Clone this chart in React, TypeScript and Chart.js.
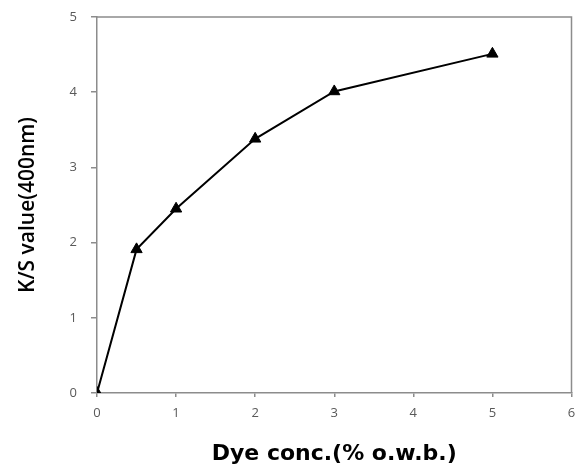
import React, { useEffect, useRef } from "react";
import { Chart, registerables } from "chart.js";

Chart.register(...registerables);

const xValues = [0, 0.5, 1, 2, 3, 5];
const ksValues = [0, 1.91, 2.45, 3.38, 4.01, 4.51];
const xTitle = "Dye conc.(% o.w.b.)";
const yTitle = "K/S value(400nm)";

const framePlugin = {
  id: "frame",
  afterDraw(chart: any) {
    const { ctx, chartArea } = chart;
    ctx.save();
    ctx.strokeStyle = "#8c8c8c";
    ctx.lineWidth = 1.5;
    ctx.beginPath();
    ctx.moveTo(chartArea.left, chartArea.top);
    ctx.lineTo(chartArea.right, chartArea.top);
    ctx.lineTo(chartArea.right, chartArea.bottom);
    ctx.stroke();
    ctx.restore();
  },
};

export default function App() {
  const ref = useRef<HTMLCanvasElement | null>(null);
  useEffect(() => {
    document.body.style.margin = "0";
    const canvas = ref.current!;
    const chart = new Chart(canvas, {
      type: "line",
      data: {
        datasets: [
          {
            data: xValues.map((x, i) => ({ x, y: ksValues[i] })),
            borderColor: "#000",
            backgroundColor: "#000",
            borderWidth: 2,
            pointStyle: "triangle",
            pointRadius: 6.5,
            pointBorderWidth: 1,
            pointBackgroundColor: "#000",
            pointBorderColor: "#000",
            tension: 0,
          },
        ],
      },
      plugins: [framePlugin],
      options: {
        animation: false,
        responsive: false,
        devicePixelRatio: 1,
        layout: { padding: { left: 0, top: 17, right: 7, bottom: 0 } },
        plugins: { legend: { display: false }, tooltip: { enabled: false } },
        scales: {
          x: {
            type: "linear",
            min: 0,
            max: 6,
            ticks: {
              stepSize: 1,
              color: "#595959",
              font: { family: "Open Sans", size: 13 },
              padding: 8,
            },
            grid: {
              drawOnChartArea: false,
              drawTicks: true,
              tickLength: 4,
              color: "#8c8c8c",
              lineWidth: 1.5,
            },
            border: { color: "#8c8c8c", width: 1.5 },
            title: {
              display: true,
              text: xTitle,
              color: "#000",
              font: { family: "DejaVu Sans", size: 22, weight: "bold" },
              padding: { top: 0, bottom: 0 },
            },
            afterFit(scale: any) {
              scale.height = 74;
              scale.paddingLeft = 0;
              scale.paddingRight = 0;
            },
          },
          y: {
            type: "linear",
            min: 0,
            max: 5,
            ticks: {
              stepSize: 1,
              color: "#595959",
              font: { family: "Open Sans", size: 13 },
              padding: 14,
            },
            grid: {
              drawOnChartArea: false,
              drawTicks: true,
              tickLength: 6,
              color: "#8c8c8c",
              lineWidth: 1.5,
            },
            border: { color: "#8c8c8c", width: 1.5 },
            title: {
              display: true,
              text: yTitle,
              color: "#000",
              font: { family: "Open Sans", size: 21, weight: "600" },
              padding: { top: 15, bottom: 0 },
            },
            afterFit(scale: any) {
              scale.width = 97;
              scale.paddingTop = 0;
              scale.paddingBottom = 0;
            },
          },
        },
      },
    });
    return () => chart.destroy();
  }, []);
  return (
    <div style={{ position: "absolute", left: 0, top: 0, width: 579, height: 467, background: "#fff" }}>
      <canvas ref={ref} width={579} height={467} />
    </div>
  );
}
